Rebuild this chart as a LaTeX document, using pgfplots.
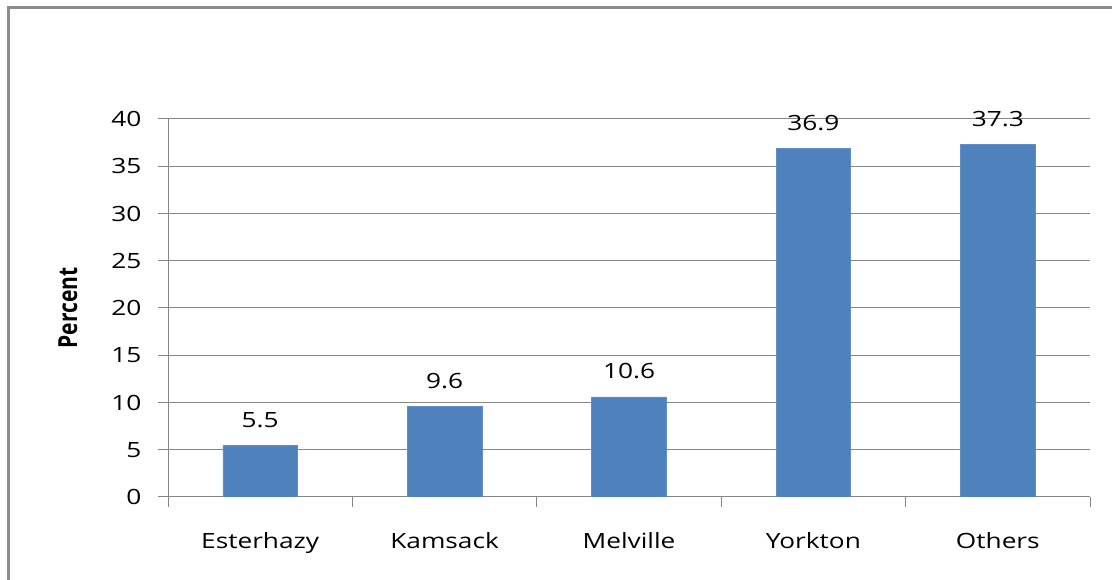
\documentclass[border=0pt]{standalone}
\usepackage{fontspec}
\setmainfont{Open Sans}[FakeStretch=1.25]
\newfontfamily\plainsans{Open Sans}
\usepackage{pgfplots}
\pgfplotsset{compat=1.18}
\definecolor{barblue}{RGB}{79,129,189}
\definecolor{gridgray}{RGB}{134,134,134}
\definecolor{framegray}{RGB}{140,140,140}

\begin{document}
\begin{tikzpicture}
  % 1 px = 0.75 pt; origin at bottom-left of the page
  \useasboundingbox (0pt,0pt) rectangle (834pt,435pt);
  % outer chart frame
  \draw[framegray, line width=1.9pt] (6.4pt,-5pt) -- (6.4pt,429.4pt) -- (840pt,429.4pt);
  \begin{axis}[
    at={(126pt,62.25pt)}, anchor=south west,
    scale only axis, width=691.5pt, height=283.5pt,
    xmin=-0.5, xmax=4.5, ymin=0, ymax=40,
    ytick={0,5,...,40},
    xtick={-0.5,0.5,1.5,2.5,3.5,4.5},
    x tick label as interval,
    xticklabels={Esterhazy,Kamsack,Melville,Yorkton,Others},
    ymajorgrids, xmajorgrids=false,
    major grid style={gridgray, line width=0.75pt},
    axis x line*=bottom, axis y line*=left,
    axis line style={gridgray, line width=0.75pt},
    xtick style={draw=gridgray, line width=0.75pt},
    ytick style={draw=gridgray, line width=0.75pt},
    tick align=outside, major tick length=7.5pt,
    /pgf/number format/assume math mode=true,
    tick label style={font=\fontsize{15.75}{19}\selectfont, text=black},
    yticklabel style={xshift=-9pt},
    xticklabel style={yshift=-16pt},
    ylabel={\scalebox{1}[1.25]{\plainsans\bfseries Percent}},
    every axis y label/.style={at={(axis description cs:-0.1085,0.5)}, rotate=90, anchor=center,
      font=\fontsize{15.75}{19}\selectfont},
    ybar, bar width=56pt,
    nodes near coords,
    every node near coord/.append style={font=\fontsize{15.75}{19}\selectfont, text=black,
      anchor=base, yshift=13.5pt, inner sep=0pt},
  ]
    \addplot[fill=barblue, draw=barblue!90!white] coordinates {(0,5.5) (1,9.6) (2,10.6) (3,36.9) (4,37.3)};
  \end{axis}
\end{tikzpicture}
\end{document}
